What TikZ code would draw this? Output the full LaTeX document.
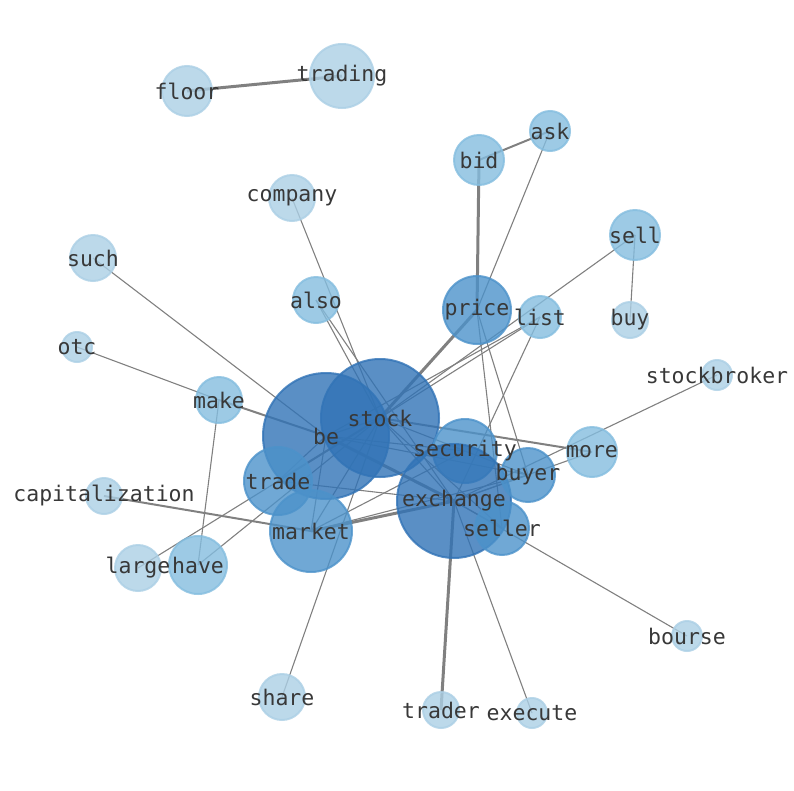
\documentclass[tikz,border=0pt]{standalone}
\usepackage{fontspec}
\setmonofont{DejaVu Sans Mono}
\usepackage{xcolor}
\usepackage{tikz}
\usetikzlibrary{positioning}

\pgfdeclarelayer{edges}
\pgfsetlayers{edges,main}

\definecolor{hub}{RGB}{49,115,182}
\definecolor{core}{RGB}{76,146,202}
\definecolor{mid}{RGB}{132,189,223}
\definecolor{leaf}{RGB}{171,207,229}

\tikzset{
  vertex/.style={circle, inner sep=0pt, fill=#1, draw=#1, line width=2pt,
    fill opacity=0.8, draw opacity=0.8},
  word/.style={font=\ttfamily\fontsize{21.5}{24}\selectfont, text=black!78, inner sep=0pt},
  link/.style={draw=black!50, line width=1.1pt},
  heavy/.style={draw=black!50, line width=2pt},
  heavier/.style={draw=black!50, line width=3pt}
}

\begin{document}
\begin{tikzpicture}[x=1pt,y=-1pt]
  \useasboundingbox (0,0) rectangle (794,790);

  % nodes: name/x/y/diameter/colour
  \foreach \name/\px/\py/\d/\c in {
      floor/187/91/50/leaf, trading/342/76/64/leaf, ask/550/131/40/mid,
      bid/479/160/50/mid, company/292/198/46/leaf, such/93/258/46/leaf,
      sell/635/235/50/mid, also/316/300/46/mid, price/477/310/68/core,
      list/540/317/42/mid, buy/630/320/36/leaf, otc/77/347/30/leaf,
      stockbroker/717/375/30/leaf, make/219/400/46/mid,
      be/326/436/126/hub, stock/380/418/118/hub, trade/278/481/68/core,
      market/311/531/82/core, security/465/451/64/core, more/592/452/50/mid,
      exchange/454/501/114/hub, buyer/528/475/54/core, seller/502/528/54/core,
      capitalization/104/496/36/leaf, large/138/568/46/leaf, have/198/565/58/mid,
      bourse/687/636/30/leaf, share/282/697/46/leaf, trader/441/710/36/leaf,
      execute/532/713/30/leaf}
    \node[vertex=\c, minimum size=\d pt] (\name) at (\px,\py) {};

  \begin{pgfonlayer}{edges}
    \foreach \a/\b in {
        company/stock, also/stock, also/exchange, such/be, otc/make,
        make/have, have/stock, large/stock, sell/stock, sell/buy,
        list/stock, list/be, list/exchange, ask/price, price/seller,
        price/buyer, stockbroker/exchange, more/exchange, bourse/exchange,
        execute/exchange, share/stock, trade/exchange, market/be,
        market/stock, market/buyer, market/security, be/buyer, be/security,
        stock/exchange, stock/seller, stock/security, exchange/buyer,
        exchange/seller, security/buyer, trade/be, be/stock}
      \draw[link] (\a.center) -- (\b.center);
    \foreach \a/\b in {be/make, trade/stock, capitalization/market,
        stock/more, bid/ask}
      \draw[heavy] (\a.center) -- (\b.center);
    \foreach \a/\b in {floor/trading, bid/price, price/stock, be/exchange,
        market/exchange, trader/exchange}
      \draw[heavier] (\a.center) -- (\b.center);
  \end{pgfonlayer}

  % labels on top
  \foreach \name in {floor, trading, ask, bid, company, such, sell, also,
      price, list, buy, otc, stockbroker, make, be, stock, trade, market,
      security, more, exchange, buyer, seller, capitalization, large, have,
      bourse, share, trader, execute}
    \node[word] (\name-t) at (\name) {\name};
\end{tikzpicture}
\end{document}
